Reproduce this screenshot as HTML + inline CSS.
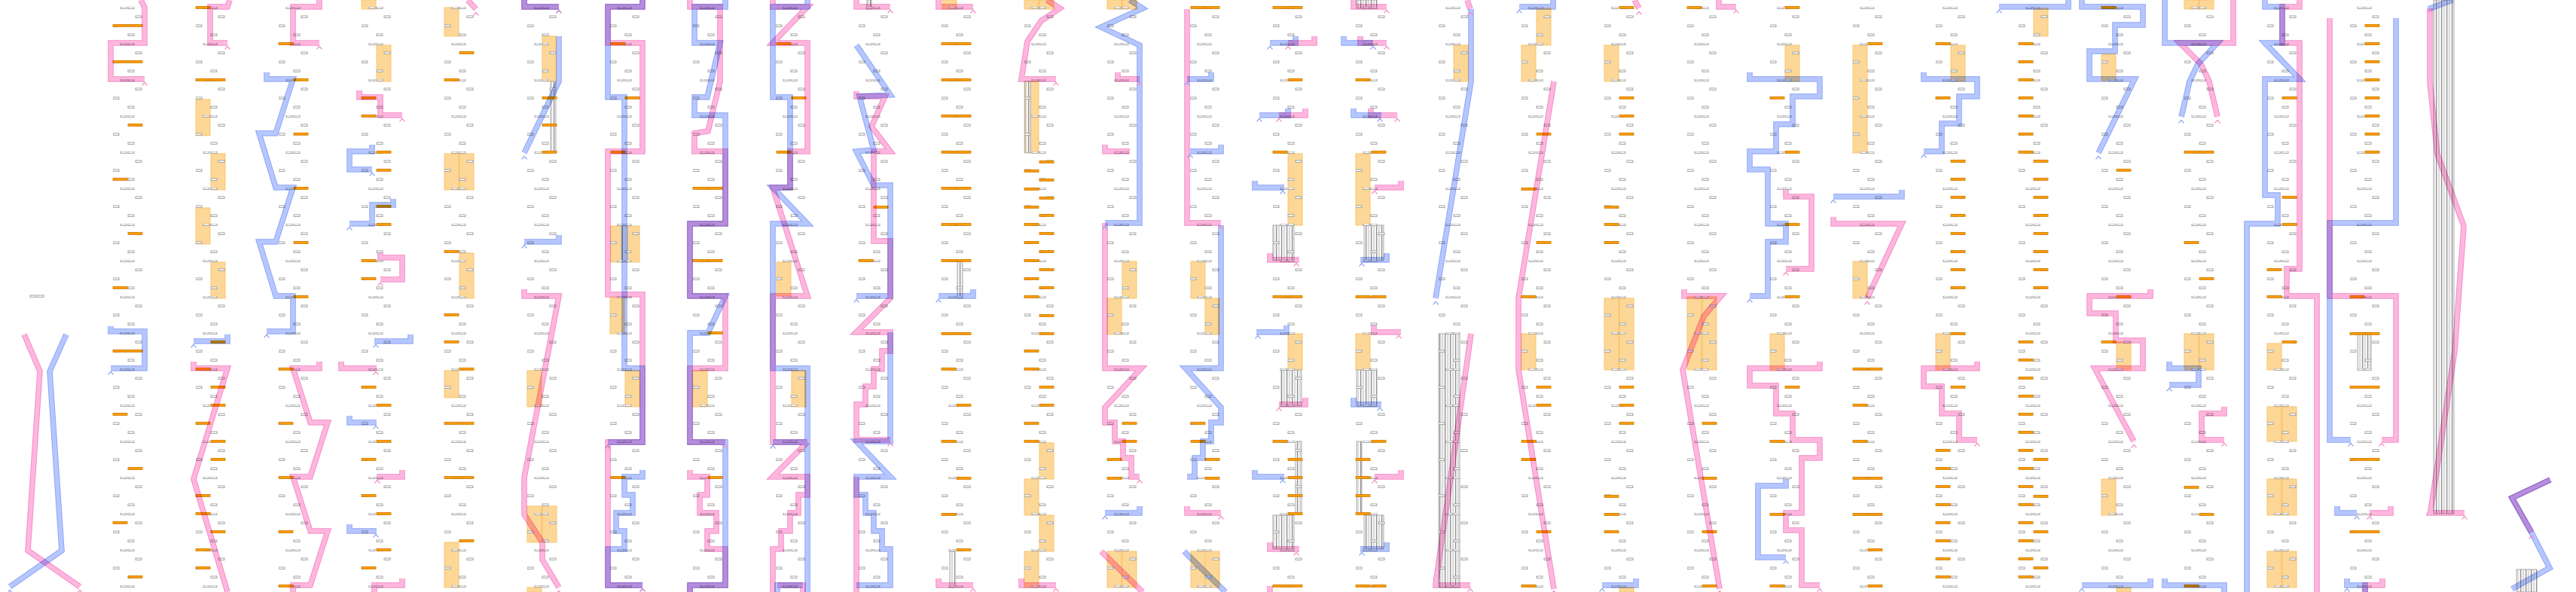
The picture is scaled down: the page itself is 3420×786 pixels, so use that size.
<!DOCTYPE html>
<html><head><meta charset="utf-8"><style>html,body{margin:0;padding:0;background:#fff;width:3420px;height:786px;overflow:hidden}svg{display:block}</style></head>
<body>
<svg width="3420" height="786" viewBox="0 0 3420 786" xmlns="http://www.w3.org/2000/svg" xmlns:xlink="http://www.w3.org/1999/xlink">
<defs>
<pattern id="tp" patternUnits="userSpaceOnUse" x="40" y="9" width="110" height="48">
<g fill="#fff" stroke="#9b9b9b" stroke-width="0.9">
<rect x="10" y="0" width="8" height="2.6"/><rect x="20" y="0" width="8" height="2.6"/>
<rect x="30" y="12" width="8" height="2.6"/>
<rect x="0" y="24" width="8" height="2.6"/>
<rect x="20" y="36" width="8" height="2.6"/>
</g>
</pattern>
<pattern id="hp" patternUnits="userSpaceOnUse" width="7" height="10"><rect width="7" height="10" fill="#f5f5f5"/><rect x="0" width="1.2" height="10" fill="#8d8d8d"/><rect x="3" width="2" height="10" fill="#dcdcdc"/></pattern>
<rect id="ob" y="-1.5" width="19" height="3" fill="#fb9b06" stroke="#d07c00" stroke-width="0.8"/>
<path id="ar" d="M-3.5,8.5 L0,4.5 L3.5,8.5"/>
<path id="PK" d="M32,444 L53,493 L37,731 L106,779
M187,0 L192,10 L192,57 L147,57 L147,105 L192,105
M305,0 L302,9 L279,9 L279,57 L302,57
M257,480 L257,489 L302,489 L257,636 L302,786
M424,0 L424,9 L389,9 L389,57 L424,57
M424,480 L424,489 L389,489 L412,561 L435,561 L412,633 L389,633 L412,705 L435,705 L412,777 L389,777 L389,786
M477,120 L477,129 L505,129 L505,153 L534,153
M505,336 L505,342 L534,342 L534,371 L505,371
M453,480 L453,489 L500,489
M534,624 L534,633 L500,633
M534,768 L534,777 L497,777 L497,786
M621,0 L632,12
M696,0 L696,9 L742,9
M696,384 L696,393 L742,393 L696,634 L696,683 L720,720 L720,743 L742,780
M853,0 L853,9 L807,9 L807,57 L853,57 L853,201 L807,201 L807,391 L853,391 L853,587 L807,587 L807,777 L853,777
M916,0 L916,9 L956,9 L956,108 L940,174 L922,177 L922,201 L963,201 L963,297 L916,297 L916,393 L963,393 L963,489 L916,489 L916,587 L963,587
M916,624 L916,633 L939,633 L939,657 L929,657 L929,681 L951,681 L951,705 L939,705 L939,729 L963,729 L963,777 L916,777 L916,786
M1026,0 L1026,9 L1072,9 L1026,57 L1072,57 L1072,201 L1049,201 L1049,249 L1026,249 L1072,393 L1026,393 L1026,587 L1072,587
M1072,587 L1026,633 L1072,633 L1072,657 L1060,657 L1060,681 L1049,681 L1049,705 L1037,705 L1037,729 L1026,729 L1026,786
M1066,786 L1066,777 L1032,777
M1137,0 L1137,9 L1182,9
M1137,121 L1137,128 L1175,128 L1157,168 L1182,201 L1160,201 L1160,320 L1182,320 L1182,396 L1137,441 L1182,441 L1182,466 L1171,466 L1171,490 L1160,490 L1160,513 L1149,513 L1149,537 L1137,537 L1137,584 L1182,584
M1137,633 L1137,786
M1246,0 L1246,9 L1292,9
M1246,768 L1246,777 L1292,777
M1390,0 L1407,11 L1382,28 L1364,55 L1356,105 L1402,105
M1356,768 L1356,777 L1402,777
M1484,96 L1484,105 L1513,105
M1467,192 L1467,201 L1500,201
M1467,296 L1467,489 L1515,489 L1467,541 L1467,561 L1480,561 L1480,586 L1491,586 L1491,608 L1502,608 L1502,633 L1513,633
M1462,732 L1517,786
M1576,12 L1576,296 L1621,296
M1576,672 L1576,681 L1621,681
M1745,48 L1745,57 L1710,57
M1733,144 L1733,153 L1698,153
M1686,336 L1686,345 L1725,345
M1733,528 L1733,537 L1698,537
M1686,720 L1686,729 L1725,729
M1686,778 L1686,786
M1797,0 L1797,9 L1841,9
M1806,48 L1806,57 L1841,57
M1820,144 L1820,153 L1855,153
M1860,240 L1860,249 L1825,249
M1824,432 L1824,441 L1860,441
M1860,624 L1860,633 L1825,633
M1948,0 L1952,12
M1953,443 L1906,775 L1906,777 L1952,777
M2063,108 L2016,396 L2016,491 L2063,782
M2170,0 L2176,11
M2282,0 L2282,9 L2305,9
M2236,384 L2236,393 L2285,393 L2262,420 L2234,491 L2283,782
M2371,252 L2371,261 L2405,261 L2405,357 L2371,357
M2416,480 L2416,489 L2323,489 L2323,512 L2358,512 L2358,549 L2380,549 L2380,584 L2416,584 L2416,608 L2392,608 L2392,681 L2371,681 L2371,704 L2392,704 L2392,777 L2416,777
M2434,288 L2434,297 L2525,297 L2479,396
M2625,480 L2625,489 L2554,489 L2554,513 L2578,513 L2578,549 L2601,549 L2601,584 L2625,584
M2855,384 L2855,393 L2774,393 L2774,416 L2809,416 L2809,452 L2845,452 L2845,489 L2781,489 L2833,586
M2965,0 L2965,57 L2894,57 L2922,85 L2933,108 L2944,155
M2953,540 L2953,549 L2923,549 L2923,584 L2953,584
M3053,0 L3053,9 L3030,9 L3030,57 L3053,57 L3053,357 L3036,357 L3036,393 L3076,393 L3076,786
M3093,24 L3093,393 L3181,393 L3181,584 L3162,584
M3174,672 L3174,681 L3146,681
M3163,768 L3163,777 L3140,777 L3140,786
M3226,11 L3226,110 L3236,205 L3271,300 L3259,466 L3227,678 L3226,681 L3272,681
M3386,637 L3335,661 L3361,707"/>
<path id="BL" d="M88,444 L66,493 L82,731 L13,779
M147,433 L147,440 L192,440 L192,489 L147,489
M302,444 L302,453 L257,453
M354,96 L354,105 L389,105 L366,177 L344,177 L366,249 L389,249 L366,321 L344,321 L366,393 L389,393 L389,440 L354,440
M494,192 L494,201 L464,201 L464,225 L494,225
M522,264 L522,272 L494,272 L494,297 L464,297
M545,444 L545,453 L497,453
M464,552 L464,561 L500,561
M464,696 L464,705 L500,705
M696,0 L696,9 L742,9
M742,48 L742,108 L696,203
M742,312 L742,321 L696,321
M853,0 L853,9 L807,9 L807,129 L829,129 L829,489 L853,489 L853,587 L807,587
M853,624 L853,633 L829,633 L829,657 L840,657 L840,681 L818,681 L818,705 L829,705 L829,729 L807,729 L807,777 L853,777
M963,0 L963,9 L922,9 L922,57 L956,57 L939,129 L922,129 L922,153 L963,153 L963,297 L916,297 L916,393 L963,393 L940,442 L916,442 L916,587 L963,587 L963,777 L916,777 L916,786
M1072,0 L1072,9 L1026,9 L1026,129 L1049,129 L1049,249 L1026,249 L1072,297 L1026,297 L1026,489 L1072,489 L1072,786
M1072,587 L1026,587
M1032,786 L1032,777 L1066,777
M1137,60 L1182,126 L1141,128 L1160,199 L1137,201 L1160,246 L1182,246 L1182,393 L1137,393
M1182,441 L1182,586 L1137,586 L1182,633 L1137,633 L1137,657 L1149,657 L1149,681 L1160,681 L1160,705 L1171,705 L1171,729 L1182,729 L1182,777 L1137,777
M1292,384 L1292,393 L1246,393
M1500,0 L1517,11 L1462,36 L1513,60 L1513,296 L1467,296
M1513,672 L1513,681 L1467,681
M1608,96 L1608,105 L1576,105
M1621,192 L1621,201 L1580,201
M1621,299 L1621,489 L1574,489 L1621,541 L1621,561 L1608,561 L1608,586 L1597,586 L1597,608 L1586,608 L1586,633 L1576,633
M1572,732 L1627,786
M1720,48 L1720,57 L1686,57
M1710,144 L1710,153 L1672,153
M1666,240 L1666,249 L1705,249
M1708,432 L1708,441 L1668,441
M1666,624 L1666,633 L1705,633
M1784,48 L1784,57 L1823,57
M1797,144 L1797,153 L1834,153
M1841,336 L1841,345 L1806,345
M1797,528 L1797,537 L1834,537
M1841,720 L1841,729 L1806,729
M1953,12 L1953,108 L1906,396
M2062,0 L2062,9 L2017,9
M2172,768 L2172,777 L2127,777
M2323,96 L2323,105 L2416,105 L2416,128 L2380,128 L2380,165 L2358,165 L2358,201 L2323,201 L2323,225 L2347,225 L2347,297 L2371,297 L2371,321 L2347,321 L2347,393 L2323,393
M2371,636 L2371,645 L2334,645 L2334,740 L2371,740
M2525,252 L2525,261 L2434,261
M2554,96 L2554,105 L2625,105 L2625,128 L2601,128 L2601,164 L2578,164 L2578,201 L2554,201
M2746,0 L2746,9 L2654,9
M2764,0 L2764,9 L2845,9 L2845,33 L2808,33 L2808,68 L2774,68 L2774,105 L2834,105 L2786,203
M2855,768 L2855,777 L2764,777
M2874,0 L2874,57 L2944,57 L2918,85 L2907,108 L2896,155
M2880,480 L2880,489 L2919,489 L2919,511 L2880,511
M2874,768 L2874,777 L2953,777 L2953,786
M3007,0 L3007,9 L3030,9 L3030,57 L3007,57 L3053,105 L3007,105 L3007,259 L3024,259 L3024,297 L2983,297 L2983,786
M3181,24 L3181,296 L3093,296 L3093,584 L3121,584
M3103,672 L3103,681 L3129,681
M3116,768 L3116,777 L3140,777 L3140,786
M3256,0 L3224,12
M3386,637 L3335,661 L3361,707 L3385,754 L3335,782"/>
</defs>

<!-- orange blocks -->
<g fill="#fdd797" stroke="#f9c46c" stroke-width="1">
<rect x="260" y="132" width="19" height="48"/><rect x="280" y="204" width="19" height="48"/><rect x="260" y="276" width="19" height="48"/><rect x="280" y="348" width="19" height="48"/>
<rect x="480" y="0" width="19" height="12"/><rect x="500" y="60" width="19" height="48"/>
<rect x="590" y="10" width="19" height="38"/><rect x="590" y="204" width="19" height="48"/><rect x="610" y="204" width="19" height="48"/><rect x="610" y="336" width="19" height="60"/><rect x="590" y="492" width="19" height="36"/><rect x="590" y="720" width="19" height="60"/>
<rect x="720" y="48" width="18" height="60"/><rect x="700" y="492" width="19" height="48"/><rect x="700" y="672" width="19" height="48"/><rect x="720" y="672" width="19" height="48"/><rect x="700" y="780" width="19" height="6"/>
<rect x="811" y="300" width="38" height="48"/><rect x="810" y="395" width="19" height="48"/><rect x="830" y="492" width="19" height="48"/>
<rect x="920" y="492" width="19" height="48"/>
<rect x="1031" y="348" width="19" height="45"/><rect x="1051" y="492" width="19" height="48"/>
<rect x="1251" y="0" width="19" height="12"/>
<rect x="1360" y="0" width="19" height="12"/><rect x="1380" y="0" width="19" height="12"/><rect x="1360" y="108" width="19" height="95"/><rect x="1380" y="588" width="19" height="48"/><rect x="1360" y="636" width="19" height="48"/><rect x="1380" y="684" width="19" height="48"/><rect x="1360" y="732" width="19" height="48"/>
<rect x="1470" y="0" width="19" height="12"/><rect x="1490" y="0" width="19" height="12"/><rect x="1490" y="347" width="19" height="49"/><rect x="1470" y="396" width="19" height="48"/><rect x="1470" y="732" width="19" height="48"/><rect x="1490" y="732" width="19" height="48"/>
<rect x="1581" y="347" width="19" height="49"/><rect x="1600" y="396" width="19" height="48"/><rect x="1581" y="732" width="19" height="48"/><rect x="1600" y="732" width="19" height="48"/>
<rect x="1710" y="204" width="19" height="95"/><rect x="1710" y="443" width="19" height="48"/>
<rect x="1800" y="204" width="19" height="95"/><rect x="1800" y="443" width="19" height="48"/>
<rect x="1930" y="60" width="19" height="48"/>
<rect x="2040" y="11" width="19" height="49"/><rect x="2020" y="60" width="19" height="48"/><rect x="2020" y="443" width="19" height="48"/>
<rect x="2130" y="60" width="19" height="48"/><rect x="2130" y="396" width="19" height="95"/><rect x="2150" y="396" width="19" height="95"/><rect x="2150" y="780" width="19" height="6"/>
<rect x="2240" y="394" width="19" height="97"/><rect x="2260" y="394" width="19" height="97"/>
<rect x="2370" y="60" width="19" height="48"/><rect x="2350" y="443" width="19" height="48"/>
<rect x="2460" y="60" width="19" height="143"/><rect x="2460" y="347" width="19" height="49"/>
<rect x="2590" y="60" width="19" height="48"/><rect x="2570" y="443" width="19" height="48"/>
<rect x="2700" y="11" width="19" height="37"/>
<rect x="2790" y="72" width="19" height="35"/><rect x="2810" y="454" width="19" height="37"/><rect x="2790" y="636" width="19" height="48"/><rect x="2810" y="780" width="19" height="6"/>
<rect x="2900" y="0" width="19" height="12"/><rect x="2920" y="0" width="19" height="12"/><rect x="2900" y="443" width="19" height="48"/><rect x="2920" y="443" width="19" height="48"/>
<rect x="3010" y="456" width="19" height="35"/><rect x="3010" y="540" width="19" height="46"/><rect x="3030" y="540" width="19" height="46"/><rect x="3010" y="636" width="19" height="48"/><rect x="3030" y="636" width="19" height="48"/><rect x="3010" y="732" width="19" height="48"/><rect x="3030" y="732" width="19" height="48"/>
</g>

<!-- hatches -->
<g fill="url(#hp)" stroke="#999" stroke-width="0.8">
<rect x="731" y="108" width="7" height="94"/><rect x="825" y="300" width="8" height="48"/><rect x="1151" y="0" width="6" height="12"/><rect x="1271" y="347" width="7" height="49"/><rect x="1261" y="732" width="7" height="48"/><rect x="1361" y="108" width="7" height="95"/>
<rect x="1690" y="299" width="28" height="47"/><rect x="1701" y="491" width="27" height="48"/><rect x="1720" y="586" width="8" height="96"/><rect x="1690" y="684" width="28" height="45"/>
<rect x="1801" y="0" width="27" height="11"/><rect x="1811" y="299" width="26" height="47"/><rect x="1801" y="491" width="27" height="48"/><rect x="1801" y="586" width="7" height="96"/><rect x="1811" y="684" width="26" height="45"/>
<rect x="1910" y="443" width="28" height="337"/><rect x="3130" y="443" width="18" height="48"/><rect x="3231" y="0" width="27" height="682"/><rect x="3341" y="756" width="27" height="30"/>
</g>

<!-- text boxes -->
<rect x="140" y="0" width="3020" height="786" fill="url(#tp)"/>
<g fill="#fff" stroke="#9b9b9b" stroke-width="0.9"><rect x="40" y="392" width="8" height="2.6"/><rect x="50" y="392" width="8" height="2.6"/></g>

<!-- orange bars -->
<g>
<use href="#ob" x="150" y="34"/><use href="#ob" x="150" y="82"/><use href="#ob" x="150" y="238"/><use href="#ob" x="150" y="382"/><use href="#ob" x="150" y="466"/><use href="#ob" x="150" y="550"/><use href="#ob" x="150" y="694"/>
<use href="#ob" x="170" y="34"/><use href="#ob" x="170" y="82"/><use href="#ob" x="170" y="166"/><use href="#ob" x="170" y="310"/><use href="#ob" x="170" y="466"/><use href="#ob" x="170" y="622"/><use href="#ob" x="170" y="766"/>
<use href="#ob" x="260" y="10"/><use href="#ob" x="260" y="106"/><use href="#ob" x="260" y="490"/><use href="#ob" x="260" y="562"/><use href="#ob" x="260" y="658"/><use href="#ob" x="260" y="682"/><use href="#ob" x="260" y="730"/><use href="#ob" x="260" y="754"/>
<use href="#ob" x="280" y="106"/><use href="#ob" x="280" y="454"/><use href="#ob" x="280" y="514"/><use href="#ob" x="280" y="538"/><use href="#ob" x="280" y="586"/><use href="#ob" x="280" y="610"/><use href="#ob" x="280" y="706"/>
<use href="#ob" x="370" y="58"/><use href="#ob" x="370" y="490"/><use href="#ob" x="370" y="562"/><use href="#ob" x="370" y="634"/><use href="#ob" x="370" y="706"/><use href="#ob" x="370" y="778"/>
<use href="#ob" x="390" y="106"/><use href="#ob" x="390" y="178"/><use href="#ob" x="390" y="250"/><use href="#ob" x="390" y="322"/><use href="#ob" x="390" y="394"/>
<use href="#ob" x="480" y="130"/><use href="#ob" x="480" y="154"/><use href="#ob" x="480" y="346"/><use href="#ob" x="480" y="370"/><use href="#ob" x="480" y="514"/><use href="#ob" x="480" y="610"/><use href="#ob" x="480" y="658"/><use href="#ob" x="480" y="754"/>
<use href="#ob" x="500" y="202"/><use href="#ob" x="500" y="226"/><use href="#ob" x="500" y="274"/><use href="#ob" x="500" y="298"/><use href="#ob" x="500" y="538"/><use href="#ob" x="500" y="586"/><use href="#ob" x="500" y="682"/><use href="#ob" x="500" y="730"/>
<use href="#ob" x="590" y="106"/><use href="#ob" x="590" y="334"/><use href="#ob" x="590" y="418"/><use href="#ob" x="590" y="454"/><use href="#ob" x="590" y="562"/><use href="#ob" x="590" y="634"/>
<use href="#ob" x="610" y="70"/><use href="#ob" x="610" y="490"/><use href="#ob" x="610" y="562"/><use href="#ob" x="610" y="634"/><use href="#ob" x="610" y="718"/>
<use href="#ob" x="720" y="130"/><use href="#ob" x="720" y="166"/><use href="#ob" x="720" y="202"/>
<use href="#ob" x="811" y="58"/><use href="#ob" x="811" y="202"/><use href="#ob" x="811" y="634"/><use href="#ob" x="830" y="130"/>
<use href="#ob" x="920" y="250"/><use href="#ob" x="920" y="346"/><use href="#ob" x="940" y="250"/><use href="#ob" x="940" y="346"/><use href="#ob" x="940" y="442"/><use href="#ob" x="940" y="634"/>
<use href="#ob" x="1031" y="58"/><use href="#ob" x="1031" y="202"/><use href="#ob" x="1051" y="130"/>
<use href="#ob" x="1160" y="275"/><use href="#ob" x="1140" y="346"/>
<use href="#ob" x="1250" y="58"/><use href="#ob" x="1250" y="106"/><use href="#ob" x="1250" y="154"/><use href="#ob" x="1250" y="202"/><use href="#ob" x="1250" y="250"/><use href="#ob" x="1250" y="298"/><use href="#ob" x="1250" y="346"/><use href="#ob" x="1250" y="443"/><use href="#ob" x="1250" y="490"/><use href="#ob" x="1250" y="586"/><use href="#ob" x="1250" y="683"/>
<use href="#ob" x="1270" y="58"/><use href="#ob" x="1270" y="106"/><use href="#ob" x="1270" y="154"/><use href="#ob" x="1270" y="202"/><use href="#ob" x="1270" y="250"/><use href="#ob" x="1270" y="298"/><use href="#ob" x="1270" y="346"/><use href="#ob" x="1270" y="443"/><use href="#ob" x="1270" y="538"/><use href="#ob" x="1270" y="635"/><use href="#ob" x="1270" y="730"/>
<use href="#ob" x="1360" y="227"/><use href="#ob" x="1360" y="251"/><use href="#ob" x="1360" y="275"/><use href="#ob" x="1360" y="298"/><use href="#ob" x="1360" y="322"/><use href="#ob" x="1360" y="346"/><use href="#ob" x="1360" y="370"/><use href="#ob" x="1360" y="394"/><use href="#ob" x="1360" y="466"/><use href="#ob" x="1360" y="490"/><use href="#ob" x="1360" y="562"/><use href="#ob" x="1360" y="586"/>
<use href="#ob" x="1380" y="215"/><use href="#ob" x="1380" y="239"/><use href="#ob" x="1380" y="263"/><use href="#ob" x="1380" y="286"/><use href="#ob" x="1380" y="310"/><use href="#ob" x="1380" y="334"/><use href="#ob" x="1380" y="358"/><use href="#ob" x="1380" y="382"/><use href="#ob" x="1380" y="419"/><use href="#ob" x="1380" y="443"/><use href="#ob" x="1380" y="514"/><use href="#ob" x="1380" y="538"/>
<use href="#ob" x="1490" y="562"/><use href="#ob" x="1490" y="586"/><use href="#ob" x="1470" y="610"/><use href="#ob" x="1470" y="635"/>
<use href="#ob" x="1581" y="10"/><use href="#ob" x="1581" y="562"/><use href="#ob" x="1581" y="586"/><use href="#ob" x="1600" y="10"/><use href="#ob" x="1600" y="610"/><use href="#ob" x="1600" y="635"/>
<use href="#ob" x="1690" y="10"/><use href="#ob" x="1690" y="202"/><use href="#ob" x="1690" y="394"/><use href="#ob" x="1690" y="586"/><use href="#ob" x="1690" y="778"/>
<use href="#ob" x="1710" y="10"/><use href="#ob" x="1710" y="106"/><use href="#ob" x="1710" y="394"/><use href="#ob" x="1710" y="610"/><use href="#ob" x="1710" y="634"/><use href="#ob" x="1710" y="658"/><use href="#ob" x="1710" y="682"/><use href="#ob" x="1710" y="778"/>
<use href="#ob" x="1800" y="106"/><use href="#ob" x="1800" y="394"/><use href="#ob" x="1800" y="610"/><use href="#ob" x="1800" y="634"/><use href="#ob" x="1800" y="658"/><use href="#ob" x="1800" y="682"/><use href="#ob" x="1800" y="778"/>
<use href="#ob" x="1821" y="202"/><use href="#ob" x="1821" y="394"/><use href="#ob" x="1821" y="586"/><use href="#ob" x="1821" y="778"/>
<use href="#ob" x="2020" y="251"/><use href="#ob" x="2020" y="394"/><use href="#ob" x="2020" y="586"/><use href="#ob" x="2020" y="610"/><use href="#ob" x="2020" y="778"/>
<use href="#ob" x="2040" y="178"/><use href="#ob" x="2040" y="322"/><use href="#ob" x="2040" y="514"/><use href="#ob" x="2040" y="538"/><use href="#ob" x="2040" y="706"/>
<use href="#ob" x="2130" y="275"/><use href="#ob" x="2130" y="298"/><use href="#ob" x="2130" y="322"/><use href="#ob" x="2130" y="659"/><use href="#ob" x="2130" y="683"/><use href="#ob" x="2130" y="706"/>
<use href="#ob" x="2150" y="10"/><use href="#ob" x="2150" y="130"/><use href="#ob" x="2150" y="154"/><use href="#ob" x="2150" y="178"/><use href="#ob" x="2150" y="514"/><use href="#ob" x="2150" y="538"/><use href="#ob" x="2150" y="562"/>
<use href="#ob" x="2240" y="10"/><use href="#ob" x="2260" y="562"/><use href="#ob" x="2260" y="635"/><use href="#ob" x="2260" y="706"/><use href="#ob" x="2260" y="778"/>
<use href="#ob" x="2350" y="130"/><use href="#ob" x="2350" y="586"/><use href="#ob" x="2350" y="683"/><use href="#ob" x="2350" y="778"/>
<use href="#ob" x="2370" y="10"/><use href="#ob" x="2370" y="202"/><use href="#ob" x="2370" y="298"/><use href="#ob" x="2370" y="394"/><use href="#ob" x="2370" y="514"/>
<use href="#ob" x="2460" y="490"/><use href="#ob" x="2460" y="538"/><use href="#ob" x="2460" y="586"/><use href="#ob" x="2460" y="635"/><use href="#ob" x="2460" y="683"/>
<use href="#ob" x="2480" y="58"/><use href="#ob" x="2480" y="490"/><use href="#ob" x="2480" y="635"/><use href="#ob" x="2480" y="683"/><use href="#ob" x="2480" y="730"/><use href="#ob" x="2480" y="778"/>
<use href="#ob" x="2570" y="58"/><use href="#ob" x="2570" y="130"/><use href="#ob" x="2570" y="598"/><use href="#ob" x="2570" y="622"/><use href="#ob" x="2570" y="646"/><use href="#ob" x="2570" y="670"/><use href="#ob" x="2570" y="694"/><use href="#ob" x="2570" y="718"/><use href="#ob" x="2570" y="742"/><use href="#ob" x="2570" y="766"/>
<use href="#ob" x="2590" y="214"/><use href="#ob" x="2590" y="238"/><use href="#ob" x="2590" y="262"/><use href="#ob" x="2590" y="286"/><use href="#ob" x="2590" y="310"/><use href="#ob" x="2590" y="334"/><use href="#ob" x="2590" y="358"/><use href="#ob" x="2590" y="382"/><use href="#ob" x="2590" y="443"/><use href="#ob" x="2590" y="514"/>
<use href="#ob" x="2680" y="58"/><use href="#ob" x="2680" y="82"/><use href="#ob" x="2680" y="106"/><use href="#ob" x="2680" y="130"/><use href="#ob" x="2680" y="154"/><use href="#ob" x="2680" y="178"/><use href="#ob" x="2680" y="202"/>
<use href="#ob" x="2680" y="454"/><use href="#ob" x="2680" y="478"/><use href="#ob" x="2680" y="502"/><use href="#ob" x="2680" y="526"/><use href="#ob" x="2680" y="550"/><use href="#ob" x="2680" y="574"/><use href="#ob" x="2680" y="598"/><use href="#ob" x="2680" y="622"/><use href="#ob" x="2680" y="646"/><use href="#ob" x="2680" y="670"/><use href="#ob" x="2680" y="694"/><use href="#ob" x="2680" y="718"/><use href="#ob" x="2680" y="742"/><use href="#ob" x="2680" y="766"/>
<use href="#ob" x="2700" y="214"/><use href="#ob" x="2700" y="238"/><use href="#ob" x="2700" y="262"/><use href="#ob" x="2700" y="286"/><use href="#ob" x="2700" y="310"/><use href="#ob" x="2700" y="334"/><use href="#ob" x="2700" y="358"/><use href="#ob" x="2700" y="382"/><use href="#ob" x="2700" y="610"/><use href="#ob" x="2700" y="659"/><use href="#ob" x="2700" y="706"/><use href="#ob" x="2700" y="754"/>
<use href="#ob" x="2790" y="10"/><use href="#ob" x="2790" y="454"/><use href="#ob" x="2810" y="226"/><use href="#ob" x="2810" y="394"/>
<use href="#ob" x="2900" y="202"/><use href="#ob" x="2900" y="322"/><use href="#ob" x="2900" y="647"/><use href="#ob" x="2900" y="778"/><use href="#ob" x="2920" y="202"/><use href="#ob" x="2920" y="370"/><use href="#ob" x="2920" y="683"/>
<use href="#ob" x="3010" y="358"/><use href="#ob" x="3010" y="394"/><use href="#ob" x="3030" y="130"/><use href="#ob" x="3030" y="262"/><use href="#ob" x="3030" y="298"/><use href="#ob" x="3030" y="454"/>
<use href="#ob" x="3140" y="34"/><use href="#ob" x="3140" y="58"/><use href="#ob" x="3140" y="82"/><use href="#ob" x="3140" y="106"/><use href="#ob" x="3140" y="130"/><use href="#ob" x="3140" y="154"/><use href="#ob" x="3140" y="178"/><use href="#ob" x="3140" y="202"/><use href="#ob" x="3140" y="443"/><use href="#ob" x="3140" y="514"/><use href="#ob" x="3140" y="610"/><use href="#ob" x="3140" y="706"/>
<use href="#ob" x="3120" y="394"/><use href="#ob" x="3120" y="443"/><use href="#ob" x="3120" y="514"/><use href="#ob" x="3120" y="610"/><use href="#ob" x="3120" y="706"/>
</g>

<!-- lines -->
<g fill="none" stroke-linejoin="miter" style="mix-blend-mode:multiply">
<use href="#BL" stroke="#8ea6f2" stroke-width="7.5"/>
<use href="#BL" stroke="#b6c6ff" stroke-width="5.5"/>
</g>
<g fill="none" stroke-linejoin="miter" style="mix-blend-mode:multiply">
<use href="#PK" stroke="#f08dca" stroke-width="7.5"/>
<use href="#PK" stroke="#ffb6dd" stroke-width="5.5"/>
</g>

<!-- arrowheads -->
<g fill="none" stroke="#f08dca" stroke-width="1.3">
<use href="#ar" x="106" y="779"/><use href="#ar" x="192" y="105"/><use href="#ar" x="302" y="57"/><use href="#ar" x="424" y="57"/><use href="#ar" x="534" y="153"/><use href="#ar" x="505" y="371"/><use href="#ar" x="499" y="489"/><use href="#ar" x="501" y="633"/><use href="#ar" x="632" y="12"/><use href="#ar" x="742" y="780"/><use href="#ar" x="963" y="587"/>
<use href="#ar" x="1182" y="9"/><use href="#ar" x="1182" y="584"/><use href="#ar" x="1292" y="9"/><use href="#ar" x="1292" y="777"/><use href="#ar" x="1402" y="105"/><use href="#ar" x="1402" y="777"/><use href="#ar" x="1513" y="105"/><use href="#ar" x="1513" y="633"/><use href="#ar" x="1621" y="296"/><use href="#ar" x="1621" y="681"/>
<use href="#ar" x="1710" y="57"/><use href="#ar" x="1698" y="153"/><use href="#ar" x="1721" y="345"/><use href="#ar" x="1698" y="537"/><use href="#ar" x="1721" y="729"/>
<use href="#ar" x="1841" y="9"/><use href="#ar" x="1841" y="57"/><use href="#ar" x="1855" y="153"/><use href="#ar" x="1825" y="249"/><use href="#ar" x="1857" y="441"/><use href="#ar" x="1825" y="633"/>
<use href="#ar" x="1952" y="12"/><use href="#ar" x="1952" y="777"/><use href="#ar" x="2063" y="780"/><use href="#ar" x="2176" y="11"/><use href="#ar" x="2305" y="9"/><use href="#ar" x="2283" y="780"/>
<use href="#ar" x="2371" y="357"/><use href="#ar" x="2416" y="777"/><use href="#ar" x="2479" y="396"/><use href="#ar" x="2625" y="584"/><use href="#ar" x="2833" y="586"/><use href="#ar" x="2944" y="155"/><use href="#ar" x="2953" y="584"/>
<use href="#ar" x="3162" y="584"/><use href="#ar" x="3146" y="681"/><use href="#ar" x="3226" y="8"/><use href="#ar" x="3272" y="681"/><use href="#ar" x="3361" y="707"/>
</g>
<g fill="none" stroke="#8ea6f2" stroke-width="1.3">
<use href="#ar" x="13" y="779"/><use href="#ar" x="147" y="489"/><use href="#ar" x="257" y="453"/><use href="#ar" x="354" y="440"/><use href="#ar" x="494" y="225"/><use href="#ar" x="464" y="297"/><use href="#ar" x="499" y="453"/><use href="#ar" x="499" y="561"/><use href="#ar" x="499" y="705"/>
<use href="#ar" x="696" y="203"/><use href="#ar" x="696" y="321"/><use href="#ar" x="1026" y="587"/><use href="#ar" x="1137" y="393"/><use href="#ar" x="1246" y="393"/><use href="#ar" x="1467" y="296"/><use href="#ar" x="1467" y="681"/><use href="#ar" x="1576" y="105"/><use href="#ar" x="1580" y="201"/>
<use href="#ar" x="1686" y="57"/><use href="#ar" x="1672" y="153"/><use href="#ar" x="1703" y="249"/><use href="#ar" x="1670" y="441"/><use href="#ar" x="1703" y="633"/>
<use href="#ar" x="1823" y="57"/><use href="#ar" x="1832" y="153"/><use href="#ar" x="1808" y="345"/><use href="#ar" x="1832" y="537"/><use href="#ar" x="1808" y="729"/>
<use href="#ar" x="1906" y="396"/><use href="#ar" x="2017" y="9"/><use href="#ar" x="2127" y="777"/><use href="#ar" x="2323" y="393"/><use href="#ar" x="2371" y="740"/><use href="#ar" x="2434" y="261"/><use href="#ar" x="2554" y="201"/><use href="#ar" x="2654" y="9"/>
<use href="#ar" x="2786" y="203"/><use href="#ar" x="2764" y="777"/><use href="#ar" x="2896" y="155"/><use href="#ar" x="2880" y="511"/><use href="#ar" x="3121" y="584"/><use href="#ar" x="3129" y="681"/><use href="#ar" x="3116" y="777"/>
</g>
<g fill="none" stroke="#c46ec6" stroke-width="1.3">
<use href="#ar" x="742" y="9"/><use href="#ar" x="807" y="587"/><use href="#ar" x="853" y="777"/>
</g>
</svg>
</body></html>
